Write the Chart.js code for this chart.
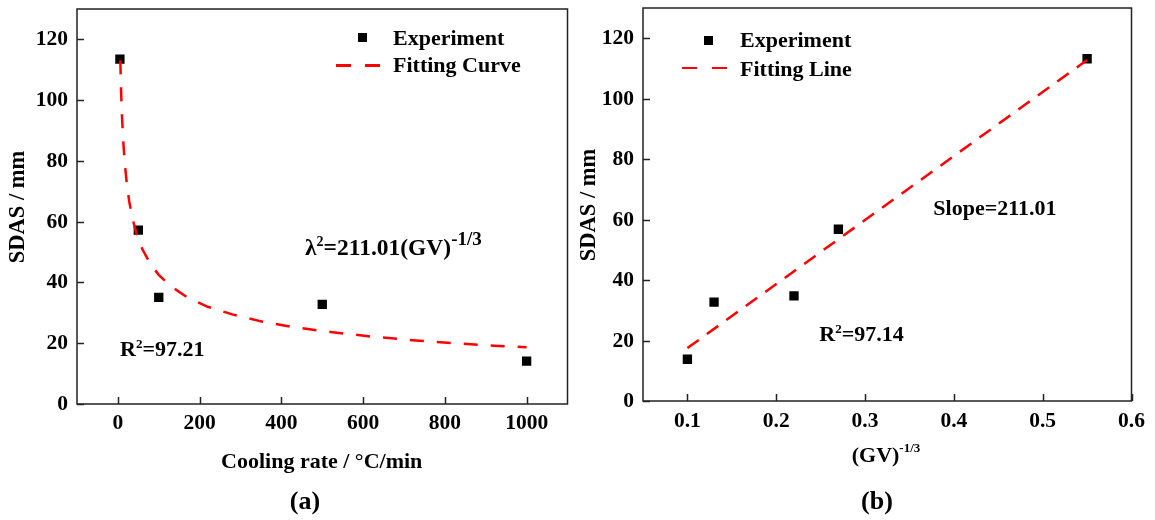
<!DOCTYPE html>
<html>
<head>
<meta charset="utf-8">
<script src="https://cdn.jsdelivr.net/npm/chart.js@4.4.1/dist/chart.umd.min.js"></script>
<style>
body { margin: 0; background: #fff; }
#wrap { position: relative; width: 1155px; height: 520px; overflow: hidden; }
#chartA { position: absolute; left: 0; top: 0; }
#chartB { position: absolute; left: 580px; top: 0; }
.lbl {
  position: absolute;
  white-space: nowrap;
  font-family: "Liberation Serif", "Times New Roman", serif;
  font-weight: bold;
  line-height: 1;
  color: #000;
}
.sup { position: relative; }
.mark { position: absolute; }
</style>
</head>
<body>
<div id="wrap">
  <canvas id="chartA" width="580" height="520"></canvas>
  <canvas id="chartB" width="575" height="520"></canvas>
</div>
<script>
// panel (a): SDAS vs cooling rate
var rateA = [5, 50, 100, 500, 1000];
var sdasA = [113.5, 57.2, 35.1, 32.8, 14.1];
var fitRateA = [6, 8, 10, 13, 17, 22, 28, 35, 45, 60, 80, 100, 130, 170, 220, 280, 350, 430, 520, 620, 720, 820, 920, 1000];
var fitSdasA = [113.1, 102.5, 94.9, 86.8, 79.1, 72.3, 66.5, 61.5, 56.3, 50.9, 46.0, 42.5, 38.7, 35.1, 32.0, 29.5, 27.2, 25.3, 23.7, 22.2, 21.0, 20.0, 19.2, 18.7];
var xTicksA = [0, 200, 400, 600, 800, 1000];

// panel (b): SDAS vs (GV)^-1/3
var gvB = [0.1, 0.13, 0.22, 0.27, 0.55];
var sdasB = [13.8, 32.7, 34.8, 56.8, 113.2];
var fitGvB = [0.1, 0.55];
var fitSdasB = [17.5, 112.8];
var xTicksB = [0.1, 0.2, 0.3, 0.4, 0.5, 0.6];

var yTicks = [0, 20, 40, 60, 80, 100, 120];

var wrap = document.getElementById('wrap');

function pts(xs, ys) {
  return xs.map(function (x, i) { return { x: x, y: ys[i] }; });
}

function sup(t, size, rise) {
  return '<span class="sup" style="font-size:' + size + 'px;top:-' + rise + 'px">' + t + '</span>';
}

// html label; y is the middle of the capitals
function label(html, x, y, size, anchor, rotate) {
  var d = document.createElement('div');
  d.className = 'lbl';
  d.innerHTML = html;
  d.style.left = x + 'px';
  d.style.top = y + 'px';
  d.style.fontSize = size + 'px';
  var tx = anchor === 'left' ? '0' : (anchor === 'right' ? '-100%' : '-50%');
  d.style.transform = 'translate(' + tx + ',-50%)' + (rotate ? ' rotate(-90deg)' : '');
  wrap.appendChild(d);
}

function mark(x, y, w, h, color) {
  var d = document.createElement('div');
  d.className = 'mark';
  d.style.left = x + 'px';
  d.style.top = y + 'px';
  d.style.width = w + 'px';
  d.style.height = h + 'px';
  d.style.background = color;
  wrap.appendChild(d);
}

// box round the plot and inward ticks
var frame = {
  id: 'frame',
  afterDraw: function (chart) {
    var ctx = chart.ctx, a = chart.chartArea;
    var xs = chart.scales.x, ys = chart.scales.y;
    ctx.save();
    ctx.strokeStyle = '#222';
    ctx.lineWidth = 1.5;
    ctx.strokeRect(a.left, a.top, a.right - a.left, a.bottom - a.top);
    xs.ticks.forEach(function (t) {
      var px = Math.round(xs.getPixelForValue(t.value)) + 0.5;
      ctx.beginPath();
      ctx.moveTo(px, a.bottom);
      ctx.lineTo(px, a.bottom - 7);
      ctx.stroke();
    });
    ys.ticks.forEach(function (t) {
      var py = Math.round(ys.getPixelForValue(t.value)) + 0.5;
      ctx.beginPath();
      ctx.moveTo(a.left, py);
      ctx.lineTo(a.left + 7, py);
      ctx.stroke();
    });
    ctx.restore();
  }
};

function makeChart(id, cfg) {
  return new Chart(document.getElementById(id), {
    type: 'scatter',
    data: {
      datasets: [
        {
          type: 'line',
          label: cfg.fitName,
          data: pts(cfg.fitX, cfg.fitY),
          fill: false,
          tension: 0,
          borderColor: '#ff0000',
          borderWidth: 2.5,
          borderDash: cfg.dash,
          pointRadius: 0,
          order: 0
        },
        {
          label: 'Experiment',
          data: pts(cfg.x, cfg.y),
          pointStyle: 'rect',
          pointRadius: 6.6,
          backgroundColor: '#000',
          borderColor: '#000',
          borderWidth: 0,
          order: 1
        }
      ]
    },
    options: {
      responsive: false,
      animation: false,
      layout: { padding: cfg.padding },
      plugins: {
        legend: { display: false },
        tooltip: { enabled: false }
      },
      scales: {
        x: {
          type: 'linear',
          min: cfg.xMin,
          max: cfg.xMax,
          grid: { display: false },
          border: { display: false },
          ticks: { display: false },
          afterBuildTicks: function (s) { s.ticks = cfg.xTicks.map(function (v) { return { value: v }; }); },
          afterFit: function (s) { s.height = cfg.xH; }
        },
        y: {
          type: 'linear',
          min: 0,
          max: 130,
          grid: { display: false },
          border: { display: false },
          ticks: { display: false },
          afterBuildTicks: function (s) { s.ticks = yTicks.map(function (v) { return { value: v }; }); },
          afterFit: function (s) { s.width = cfg.yW; }
        }
      }
    },
    plugins: [frame]
  });
}

// tick labels and y title placed from the chart's own scales
function axisText(chart, left, fmt, xLabelY, yTitleX) {
  var a = chart.chartArea, xs = chart.scales.x, ys = chart.scales.y;
  xs.ticks.forEach(function (t) {
    label(fmt(t.value), left + xs.getPixelForValue(t.value), xLabelY, 21.5, 'center');
  });
  ys.ticks.forEach(function (t) {
    label(String(t.value), left + a.left - 9, ys.getPixelForValue(t.value), 21.5, 'right');
  });
  label('SDAS / mm', yTitleX, (a.top + a.bottom) / 2, 22.5, 'center', true);
}

var chartA = makeChart('chartA', {
  x: rateA, y: sdasA, fitX: fitRateA, fitY: fitSdasA,
  fitName: 'Fitting Curve', dash: [14, 13],
  xMin: -100, xMax: 1100, xTicks: xTicksA,
  padding: { left: 0, top: 9, right: 12.5, bottom: 0 },
  xH: 116, yW: 77
});

var chartB = makeChart('chartB', {
  x: gvB, y: sdasB, fitX: fitGvB, fitY: fitSdasB,
  fitName: 'Fitting Line', dash: [14, 10],
  xMin: 0.05, xMax: 0.6, xTicks: xTicksB,
  padding: { left: 0, top: 8, right: 23.5, bottom: 0 },
  xH: 119, yW: 63
});

axisText(chartA, 0, function (v) { return String(v); }, 423, 17);
axisText(chartB, 580, function (v) { return v.toFixed(1); }, 421, 588);

// panel (a) texts
label('Cooling rate / \u00B0C/min', 321.7, 460.7, 22, 'center');
label('(a)', 305, 501, 26, 'center');
label('R' + sup('2', 13, 8) + '=97.21', 120, 349.4, 22, 'left');
label('\u03BB' + sup('2', 14, 9) + '=211.01(GV)' + sup('-1/3', 19, 10), 305, 248, 23.5, 'left');
label('Experiment', 393, 37.7, 22, 'left');
label('Fitting Curve', 393, 65.4, 22, 'left');
mark(358.2, 32.5, 9, 9, '#000');
mark(336, 64, 15, 2.5, '#ff0000');
mark(365, 64, 15, 2.5, '#ff0000');

// panel (b) texts
label('(GV)' + sup('-1/3', 13, 10), 886, 454.6, 22, 'center');
label('(b)', 877, 501, 26, 'center');
label('R' + sup('2', 13, 8) + '=97.14', 819.3, 334.4, 22, 'left');
label('Slope=211.01', 933.3, 207.7, 22, 'left');
label('Experiment', 740, 40.4, 22, 'left');
label('Fitting Line', 740, 68.7, 22, 'left');
mark(703.8, 35.5, 9, 9, '#000');
mark(681.7, 66.8, 15, 2.5, '#ff0000');
mark(711.7, 66.8, 15, 2.5, '#ff0000');
</script>
</body>
</html>
